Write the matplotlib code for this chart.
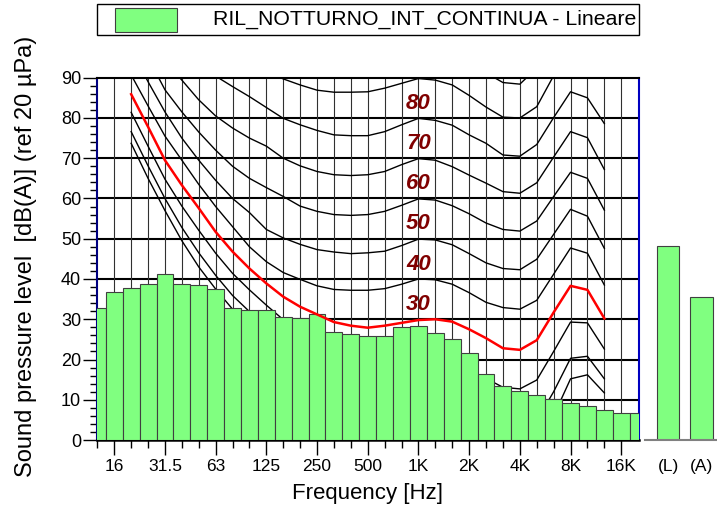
import matplotlib
matplotlib.use("Agg")
import matplotlib.pyplot as plt
from matplotlib.patches import Rectangle
import numpy as np

plt.rcParams['font.family'] = ['Liberation Sans', 'DejaVu Sans']

# 1/3 octave bands 12.5 Hz .. 20 kHz
bands = ["12.5", "16", "20", "25", "31.5", "40", "50", "63", "80", "100",
         "125", "160", "200", "250", "315", "400", "500", "630", "800", "1K",
         "1.25K", "1.6K", "2K", "2.5K", "3.15K", "4K", "5K", "6.3K", "8K",
         "10K", "12.5K", "16K", "20K"]
levels = [32.9, 36.8, 37.8, 38.8, 41.2, 38.8, 38.5, 37.5, 32.9, 32.2,
          32.2, 30.6, 30.2, 31.3, 26.9, 26.3, 25.9, 25.9, 28.0, 28.3,
          26.7, 25.0, 21.7, 16.4, 13.4, 12.2, 11.3, 10.1, 9.1, 8.4,
          7.5, 6.8, 6.8]
octave_labels = ["16", "31.5", "63", "125", "250", "500", "1K", "2K", "4K", "8K", "16K"]

total_labels = ["(L)", "(A)"]
total_levels = [48.2, 35.6]

# equal loudness contours, 20 Hz .. 12.5 kHz (bands[2:31])
thr = [73.7, 65.0, 57.0, 49.5, 43.0, 37.5, 32.5, 28.5, 24.5, 20.5, 17.0, 14.0, 11.5, 9.5, 7.5,
       6.0, 5.0, 4.0, 3.5, 2.5, 0.5, -1.5, -3.0, -3.5, -1.5, 6.0, 15.2, 16.2, 11.7]
ph10 = [76.6, 68.1, 60.0, 52.8, 46.5, 40.9, 35.9, 31.9, 28.0, 24.1, 20.9, 18.1, 15.8, 14.0, 12.4,
        11.4, 10.8, 10.2, 9.9, 9.0, 7.0, 4.9, 3.2, 2.7, 4.8, 12.0, 20.3, 20.8, 15.2]
ph20 = [81.4, 73.0, 64.8, 58.1, 52.1, 46.4, 41.4, 37.3, 33.5, 29.9, 27.1, 24.8, 22.6, 21.3, 20.3,
        20.0, 20.1, 20.0, 20.1, 19.3, 17.4, 15.3, 13.1, 12.7, 14.9, 22.0, 29.3, 29.1, 22.6]
ph30 = [85.9, 77.8, 69.5, 63.3, 57.6, 51.7, 46.8, 42.6, 38.9, 35.6, 33.1, 31.2, 29.3, 28.4, 27.9,
        28.4, 29.1, 29.8, 30.0, 29.4, 27.5, 25.3, 22.8, 22.4, 24.8, 31.7, 38.3, 37.3, 30.2]
ph40 = [90.7, 83.0, 75.5, 69.5, 63.5, 58.0, 53.0, 48.0, 44.3, 41.6, 39.9, 38.3, 37.4, 37.2, 37.2,
        37.6, 38.7, 40.0, 39.8, 38.7, 36.6, 34.2, 32.9, 32.5, 34.7, 41.2, 47.7, 46.4, 38.5]
ph50 = [97.0, 89.0, 81.5, 75.0, 69.5, 64.5, 60.0, 56.5, 52.3, 50.2, 48.6, 47.3, 46.7, 46.3, 46.5,
        46.9, 48.3, 49.9, 49.7, 48.5, 46.3, 44.0, 42.6, 42.3, 44.9, 51.1, 57.3, 55.6, 47.6]
ph60 = [102.0, 95.0, 87.0, 81.5, 76.5, 72.0, 68.0, 65.0, 62.7, 60.5, 58.1, 56.8, 56.0, 55.8, 56.0,
        56.8, 58.3, 59.9, 59.6, 58.2, 56.2, 53.9, 52.3, 51.9, 54.4, 60.5, 66.5, 65.0, 57.1]
ph70 = [np.nan, 100.0, 94.0, 89.4, 84.5, 80.5, 77.5, 75.0, 73.0, 70.0, 68.1, 66.7, 65.9, 65.7, 65.9,
        66.7, 68.4, 69.9, 69.5, 67.9, 65.8, 63.8, 61.7, 61.3, 63.9, 70.3, 76.6, 75.1, 67.2]
ph80 = [np.nan, np.nan, np.nan, 100.0, 94.0, 90.4, 87.8, 85.3, 82.6, 79.9, 78.3, 76.9, 75.8, 75.6, 75.6,
        76.6, 78.3, 79.9, 79.4, 78.2, 75.8, 73.7, 70.8, 70.5, 73.4, 80.1, 86.5, 85.0, 78.6]
ph90 = [np.nan, np.nan, np.nan, np.nan, np.nan, np.nan, 96.0, 93.5, 91.5, 89.7, 88.2, 86.9, 86.4, 86.4, 86.5,
        87.4, 88.6, 89.8, 89.4, 88.2, 85.6, 82.7, 80.2, 80.0, 82.8, 90.5, 96.0, 95.0, 91.0]
ph100 = [np.nan, np.nan, np.nan, np.nan, np.nan, np.nan, np.nan, np.nan, np.nan, np.nan, np.nan, np.nan, np.nan, np.nan, np.nan,
         np.nan, np.nan, np.nan, np.nan, np.nan, 95.0, 91.2, 88.8, 88.4, 92.4, 100.0, np.nan, np.nan, np.nan]
contours = [thr, ph10, ph20, ph30, ph40, ph50, ph60, ph70, ph80, ph90, ph100]
contour_labels = [30, 40, 50, 60, 70, 80]

GREEN = "#80ff80"
EDGE = "#404040"

fig = plt.figure(figsize=(7.17, 5.17), dpi=100)
ax = fig.add_axes([0.1346, 0.1489, 0.7566, 0.7008])

x = np.arange(len(bands))
xc = x[2:31]

# grid
for v in range(10, 90, 10):
    ax.axhline(v, color="black", lw=1.5, zorder=1)
for i in x[1:32]:
    ax.axvline(i, color="#303030", lw=0.8, zorder=1)

# loudness curves
for c in contours:
    if c is ph30:
        ax.plot(xc, c, color="red", lw=1.8, zorder=4)
    else:
        ax.plot(xc, c, color="black", lw=1.0, zorder=2)

ax.bar(x, levels, width=1.0, color=GREEN, edgecolor=EDGE, linewidth=0.8, zorder=3)

for p in contour_labels:
    ax.text(bands.index("1K"), p + 3.7, str(p), ha="center", va="center",
            fontsize=16, fontweight="bold", fontstyle="italic", color="#800000", zorder=5)

ax.set_xlim(-0.05, 32.05)
ax.set_ylim(0, 90)
ax.set_yticks(range(0, 91, 10))
ax.set_yticks(range(0, 91, 2), minor=True)
major_x = [bands.index(l) for l in octave_labels]
ax.set_xticks(major_x)
ax.set_xticklabels(octave_labels)
ax.set_xticks([i for i in range(32) if i not in major_x], minor=True)
ax.tick_params(axis="x", which="major", length=11, width=1, labelsize=12.5, pad=3)
ax.tick_params(axis="x", which="minor", length=5.5, width=1)
ax.tick_params(axis="y", which="major", length=10, width=1, labelsize=13, pad=1)
ax.tick_params(axis="y", which="minor", length=5, width=1)

ax.spines["left"].set_color("#000080")
ax.spines["left"].set_linewidth(1.5)
ax.spines["right"].set_color("#0000c0")
ax.spines["right"].set_linewidth(1.5)
ax.spines["top"].set_linewidth(1.5)
ax.spines["bottom"].set_linewidth(1.8)
ax.set_xlabel("Frequency [Hz]", fontsize=16, labelpad=6)
fig.text(0.036, 0.505, "Sound pressure level  [dB(A)] (ref 20 µPa)", rotation=90,
         ha="center", va="center", fontsize=17)

# overall levels
ax2 = fig.add_axes([0.8996, 0.1489, 0.1004, 0.7008])
ax2.bar([23, 56.5], total_levels, width=22.5, color=GREEN, edgecolor=EDGE, linewidth=0.8)
ax2.set_xlim(0, 72)
ax2.set_ylim(0, 90)
ax2.set_xticks([23, 56.5])
ax2.set_xticklabels(total_labels)
ax2.tick_params(axis="x", length=0, labelsize=12.5, pad=14)
ax2.set_yticks([])
for s in ["left", "right", "top"]:
    ax2.spines[s].set_visible(False)
ax2.spines["bottom"].set_color("#808080")
ax2.spines["bottom"].set_linewidth(1.5)
ax2.patch.set_alpha(0)

# legend box
fig.add_artist(Rectangle((0.1353, 0.9323), 0.756, 0.06, transform=fig.transFigure,
                         facecolor="white", edgecolor="black", lw=1))
fig.add_artist(Rectangle((0.1604, 0.9381), 0.0865, 0.0464, transform=fig.transFigure,
                         facecolor=GREEN, edgecolor=EDGE, lw=0.8))
fig.text(0.297, 0.9623, "RIL_NOTTURNO_INT_CONTINUA - Lineare", ha="left", va="center",
         fontsize=15.3)

fig.savefig("out.png", dpi=100)
